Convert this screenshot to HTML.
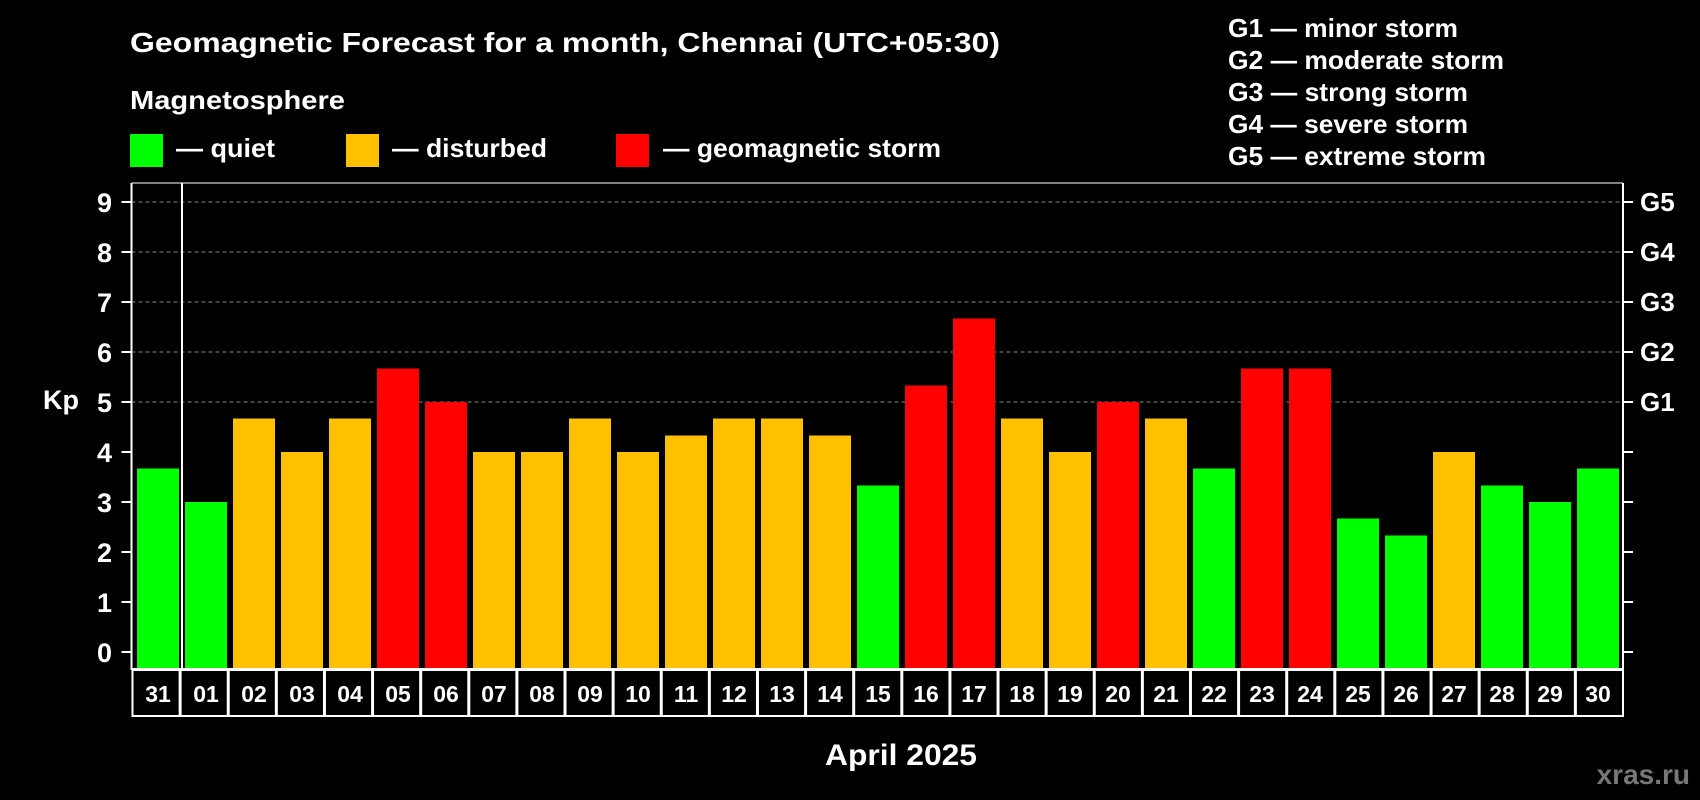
<!DOCTYPE html>
<html><head><meta charset="utf-8"><style>
html,body{margin:0;padding:0;background:#000;}
svg{display:block;font-family:"Liberation Sans",sans-serif;font-weight:bold;}
</style></head><body>
<svg id="chart" width="1700" height="800" viewBox="0 0 1700 800" xmlns="http://www.w3.org/2000/svg">
<rect width="1700" height="800" fill="#000"/>
<text x="130" y="52" fill="#fff" font-size="28" textLength="870" lengthAdjust="spacingAndGlyphs">Geomagnetic Forecast for a month, Chennai (UTC+05:30)</text>
<text x="130" y="109" fill="#fff" font-size="26" textLength="215" lengthAdjust="spacingAndGlyphs">Magnetosphere</text>
<g><rect x="130" y="134" width="33" height="33" fill="#00ff00"/><text x="176" y="157" fill="#fff" font-size="26" textLength="99" lengthAdjust="spacingAndGlyphs">— quiet</text></g>
<g><rect x="346" y="134" width="33" height="33" fill="#ffc000"/><text x="392" y="157" fill="#fff" font-size="26" textLength="155" lengthAdjust="spacingAndGlyphs">— disturbed</text></g>
<g><rect x="616" y="134" width="33" height="33" fill="#ff0000"/><text x="663" y="157" fill="#fff" font-size="26" textLength="278" lengthAdjust="spacingAndGlyphs">— geomagnetic storm</text></g>
<g fill="#fff" font-size="26">
<text x="1228" y="37" textLength="230" lengthAdjust="spacingAndGlyphs">G1 — minor storm</text>
<text x="1228" y="69" textLength="276" lengthAdjust="spacingAndGlyphs">G2 — moderate storm</text>
<text x="1228" y="101" textLength="240" lengthAdjust="spacingAndGlyphs">G3 — strong storm</text>
<text x="1228" y="133" textLength="240" lengthAdjust="spacingAndGlyphs">G4 — severe storm</text>
<text x="1228" y="165" textLength="258" lengthAdjust="spacingAndGlyphs">G5 — extreme storm</text>
</g>
<text x="43" y="409" fill="#fff" font-size="27">Kp</text>
<text x="901" y="765" fill="#fff" font-size="30" text-anchor="middle" textLength="152" lengthAdjust="spacingAndGlyphs">April 2025</text>
<text x="1690" y="784" fill="#777" font-size="28" text-anchor="end">xras.ru</text>
<g id="grid"></g><g id="bars"></g><g id="axes"></g>
</svg>
<script>
const days=["31","01","02","03","04","05","06","07","08","09","10","11","12","13","14","15","16","17","18","19","20","21","22","23","24","25","26","27","28","29","30"];
const kpValues=[3.67,3,4.67,4,4.67,5.67,5,4,4,4.67,4,4.33,4.67,4.67,4.33,3.33,5.33,6.67,4.67,4,5,4.67,3.67,5.67,5.67,2.67,2.33,4,3.33,3,3.67];
const yTicks=[0,1,2,3,4,5,6,7,8,9];
const gLabels=["G1","G2","G3","G4","G5"];
const NS="http://www.w3.org/2000/svg";
const L=131.5,R=1623,Y0=652,U=50,P=48;
const y=v=>Y0-v*U;
const xs=i=>137+i*P;
function mk(t,a,p){const e=document.createElementNS(NS,t);for(const k in a)e.setAttribute(k,a[k]);p.appendChild(e);return e;}
const grid=document.getElementById('grid'),bars=document.getElementById('bars'),axes=document.getElementById('axes');
gLabels.forEach((g,i)=>{const v=5+i;
const l=mk('line',{x1:L,x2:R,y1:y(v),y2:y(v),stroke:'#888','stroke-dasharray':'4,3','stroke-width':1},grid);


const t=mk('text',{x:1640,y:y(v)+9,fill:'#fff','font-size':26},axes);t.textContent=g;

});
kpValues.forEach((v,i)=>{const c=v>=5?'#ff0000':(v>=4?'#ffc000':'#00ff00');
const r=mk('rect',{x:xs(i),y:y(v),width:42,height:668-y(v),fill:c},bars);


const b=mk('rect',{x:L+i*(R-L)/31+1,y:670,width:(R-L)/31-1,height:46,fill:'none',stroke:'#fff','stroke-width':2},axes);


const t=mk('text',{x:xs(i)+21,y:702,fill:'#fff','font-size':23,'text-anchor':'middle'},axes);t.textContent=days[i];

});
yTicks.forEach(v=>{
mk('line',{x1:L-10,x2:L,y1:y(v),y2:y(v),stroke:'#fff','stroke-width':2},axes);
mk('line',{x1:R,x2:R+10,y1:y(v),y2:y(v),stroke:'#fff','stroke-width':2},axes);
const t=mk('text',{x:112,y:y(v)+10,fill:'#fff','font-size':27,'text-anchor':'end'},axes);t.textContent=v;

});
mk('line',{x1:L,x2:L,y1:183,y2:670,stroke:'#fff','stroke-width':2},axes);
mk('line',{x1:R,x2:R,y1:183,y2:670,stroke:'#fff','stroke-width':2},axes);
mk('line',{x1:L,x2:R,y1:183,y2:183,stroke:'#fff','stroke-width':1},axes);
mk('line',{x1:L,x2:R,y1:669,y2:669,stroke:'#fff','stroke-width':2},axes);
mk('line',{x1:182,x2:182,y1:183,y2:669,stroke:'#fff','stroke-width':2},axes);
</script>
</body></html>
